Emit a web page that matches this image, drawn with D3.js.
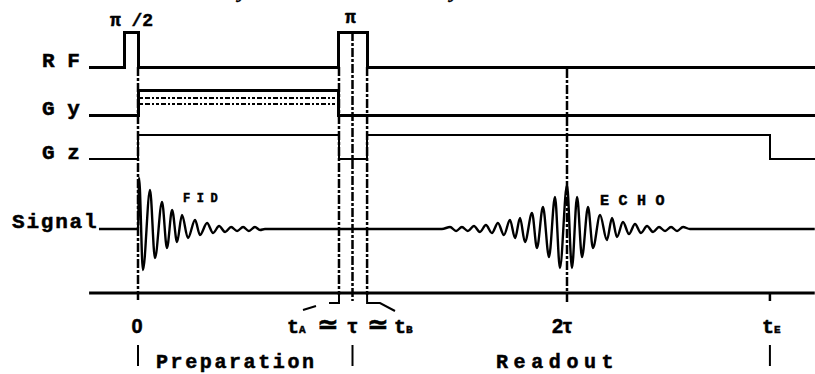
<!DOCTYPE html>
<html><head><meta charset="utf-8">
<script src="https://cdn.jsdelivr.net/npm/d3@7/dist/d3.min.js"></script>
<style>
body{margin:0;background:#fff}
svg{display:block;background:#fff}
text{font-family:"Liberation Mono",monospace;font-weight:bold;fill:#000;stroke:#000;stroke-width:0.5}
</style>
</head><body>
<svg id="c" width="815" height="374"></svg>
<script>
// ---------------- data (time in units where tau = 100) ----------------
const channelLabels = ["R F", "G y", "G z", "Signal"];
const pulseLabels = ["π /2", "π"];
const pulseLabelTimes = [-3, 99];

// key times: start, pi/2 start, 0, tA, tau, tB, 2tau, tE, end
const keyTimes = [-22.8, -6.5, 0, 93.7, 100, 106.8, 200, 294.6, 315.5];

// RF: [time, level]
const rfWave = [[-22.8,0],[-6.5,0],[-6.5,1],[0,1],[0,0],[93.7,0],[93.7,1],[106.8,1],[106.8,0],[315.5,0]];
// Gy (phase encode)
const gyWave = [[-22.8,0],[0,0],[0,1],[93.7,1],[93.7,0],[315.5,0]];
const gyPhaseSteps = [0.68, 0.44];
// Gz (read gradient)
const gzWave = [[-22.8,0],[0,0],[0,1],[93.7,1],[93.7,0],[106.8,0],[106.8,1],[294.6,1],[294.6,0],[315.5,0]];

// FID extrema
const fidTime = [0,0.5,2.3,5.6,7.9,11.2,13.5,15.9,18.2,20.5,23.3,26.6,28.9,32.2,35.0,37.8,40.6,43.4,46.2,49.0,51.7,54.5,56.9,59.2];
const fidAmp  = [0,102,-82,78,-58,54,-38,38,-26,28,-18,18,-12,12,-8,6,-6,4,-4,4,-4,4,-2,0];
// Echo extrema
const echoTime = [141.7,145.5,148.3,151.0,153.8,156.6,159.4,162.2,165.0,167.8,170.6,173.4,175.8,178.1,180.4,183.7,186.0,188.8,191.6,194.4,196.7,200.0,202.3,204.7,207.0,209.8,212.1,215.4,218.6,221.0,223.3,226.1,228.9,231.7,234.5,237.3,240.1,242.9,245.7,248.5,251.3,254.1,257.3];
const echoAmp  = [0,4,-4,4,-4,6,-6,8,-8,12,-12,18,-18,22,-26,32,-38,44,-56,64,-78,88,-78,64,-56,44,-38,28,-22,22,-16,14,-10,10,-8,6,-6,4,-4,4,-4,4,0];
const signalStart = -18.2;

const signalLabels = ["FID", "ECHO"];
const tickLabels = ["0", "2τ"];
const tickLabelTimes = [0, 200];
const phaseLabels = ["Preparation", "Readout"];
const phaseBoundaries = [0, 100, 294.6];

// ---------------- drawing ----------------
const svg = d3.select("#c");
const x = d3.scaleLinear().domain([0, 200]).range([138, 567]);
const T = {start:keyTimes[0], pi2:keyTimes[1], zero:keyTimes[2], tA:keyTimes[3], tau:keyTimes[4], tB:keyTimes[5], twoTau:keyTimes[6], tE:keyTimes[7], end:keyTimes[8]};

const base = {RF:67, Gy:115, Gz:159, Signal:229, Axis:293};
const height = {RF:35, Gy:25, Gz:24};
const lvl = k => d3.scaleLinear().domain([0,1]).range([base[k], base[k]-height[k]]);
const ySig = d3.scaleLinear().domain([-100,100]).range([base.Signal+50, base.Signal-50]);

// dashed time markers
const markers = [
  {t:T.zero, y0:base.RF, y1:301},
  {t:T.tA, y0:base.RF, y1:295},
  {t:T.tau, y0:base.RF-height.RF, y1:301},
  {t:T.tB, y0:base.RF, y1:295},
  {t:T.twoTau, y0:base.RF+2, y1:302}
];
svg.selectAll("line.mk").data(markers).join("line")
  .attr("class","mk")
  .attr("x1", d=>x(d.t)).attr("x2", d=>x(d.t))
  .attr("y1", d=>d.y0).attr("y2", d=>d.y1)
  .attr("stroke","#000").attr("stroke-width",2.5)
  .attr("stroke-dasharray","9,2,3,2");

// step waveforms
const stepLine = k => d3.line().x(d=>x(d[0])).y(d=>lvl(k)(d[1]));
[["RF", rfWave, 3], ["Gy", gyWave, 3], ["Gz", gzWave, 2]].forEach(([k, data, w]) => {
  svg.append("path").datum(data)
    .attr("d", stepLine(k))
    .attr("fill","none").attr("stroke","#000").attr("stroke-width",w)
    .attr("stroke-linejoin","miter").attr("shape-rendering","crispEdges");
});
svg.selectAll("line.ph").data(gyPhaseSteps).join("line")
  .attr("class","ph")
  .attr("x1", x(T.zero)+2).attr("x2", x(T.tA)-2)
  .attr("y1", d=>lvl("Gy")(d)).attr("y2", d=>lvl("Gy")(d))
  .attr("stroke","#000").attr("stroke-width",2)
  .attr("stroke-dasharray","3,2,5,2,2,2");

// signal
const sigData = [[signalStart,0]]
  .concat(fidTime.map((t,i)=>[t, fidAmp[i]]))
  .concat(echoTime.map((t,i)=>[t, echoAmp[i]]))
  .concat([[T.end,0]]);
svg.append("path").datum(sigData)
  .attr("d", d3.line().x(d=>x(d[0])).y(d=>ySig(d[1])).curve(d3.curveMonotoneX))
  .attr("fill","none").attr("stroke","#000").attr("stroke-width",2.4);

// time axis
svg.append("line")
  .attr("x1", x(T.start)).attr("x2", x(T.end))
  .attr("y1", base.Axis).attr("y2", base.Axis)
  .attr("stroke","#000").attr("stroke-width",3);
svg.append("line")
  .attr("x1", x(T.tE)).attr("x2", x(T.tE))
  .attr("y1", base.Axis).attr("y2", base.Axis+8)
  .attr("stroke","#000").attr("stroke-width",2.5);

// brackets tA / tB
svg.append("path")
  .attr("d", `M${x(T.tA)},${base.Axis+1}V303H329M316,306L303,310`)
  .attr("fill","none").attr("stroke","#000").attr("stroke-width",2);
svg.append("path")
  .attr("d", `M${x(T.tB)},${base.Axis+1}V303H380L395,311`)
  .attr("fill","none").attr("stroke","#000").attr("stroke-width",2);

// channel labels
const labelY = [base.RF, base.Gy, base.Gz, base.Signal-1];
svg.selectAll("text.ch").data(channelLabels).join("text")
  .attr("class","ch")
  .attr("x", (d,i)=> i===3 ? 12 : 42)
  .attr("y", (d,i)=>labelY[i])
  .attr("font-size", 21)
  .attr("letter-spacing", (d,i)=> i===3 ? 1.8 : 0)
  .text(d=>d);

// pulse labels
svg.selectAll("text.pl").data(pulseLabels).join("text")
  .attr("class","pl")
  .attr("x", (d,i)=>x(pulseLabelTimes[i]))
  .attr("y", (d,i)=> i===0 ? 26 : 23)
  .attr("text-anchor","middle")
  .attr("font-size", 18)
  .text(d=>d);

// signal labels
svg.append("text").attr("x",183).attr("y",202).attr("font-size",12).attr("letter-spacing",6.5).text(signalLabels[0]);
svg.append("text").attr("x",600).attr("y",205).attr("font-size",15).attr("letter-spacing",9.5).text(signalLabels[1]);

// tick labels
svg.selectAll("text.tk").data(tickLabels).join("text")
  .attr("class","tk")
  .attr("x",(d,i)=>x(tickLabelTimes[i]) - (i===0?1:5))
  .attr("y",333)
  .attr("text-anchor","middle")
  .style("font-family","'Liberation Sans Narrow','Liberation Sans',sans-serif")
  .attr("font-size",20)
  .text(d=>d);

// tA ~ tau ~ tB
const sub = (xp, main, s) => {
  const t = svg.append("text").attr("x",xp).attr("y",333).attr("font-size",20);
  t.append("tspan").text(main);
  t.append("tspan").attr("font-size",11).text(s);
};
sub(287, "t", "A");
svg.append("text").attr("x",328).attr("y",333).attr("text-anchor","middle").attr("font-size",26).style("font-family","'DejaVu Sans',sans-serif").text("≃");
svg.append("text").attr("x",x(T.tau)).attr("y",333).attr("text-anchor","middle").attr("font-size",20).text("τ");
svg.append("text").attr("x",378).attr("y",333).attr("text-anchor","middle").attr("font-size",26).style("font-family","'DejaVu Sans',sans-serif").text("≃");
sub(394, "t", "B");
sub(762, "t", "E");

// phase separators and labels
svg.selectAll("line.sep").data(phaseBoundaries).join("line")
  .attr("class","sep")
  .attr("x1",d=>x(d)).attr("x2",d=>x(d))
  .attr("y1",345).attr("y2",366)
  .attr("stroke","#000").attr("stroke-width",2);
svg.append("text").attr("x",156).attr("y",368).attr("font-size",20).attr("letter-spacing",2.6).text(phaseLabels[0]);
svg.append("text").attr("x",496).attr("y",368).attr("font-size",20).attr("letter-spacing",5.6).text(phaseLabels[1]);

// cut-off title descenders at top edge
[238, 450].forEach(xp => {
  svg.append("text").attr("x",xp).attr("y",-3).attr("font-size",22)
    .style("font-family","'Liberation Serif',serif").style("font-style","italic").style("font-weight","normal")
    .attr("stroke-width",0.6).text("y");
});
</script>
</body></html>
